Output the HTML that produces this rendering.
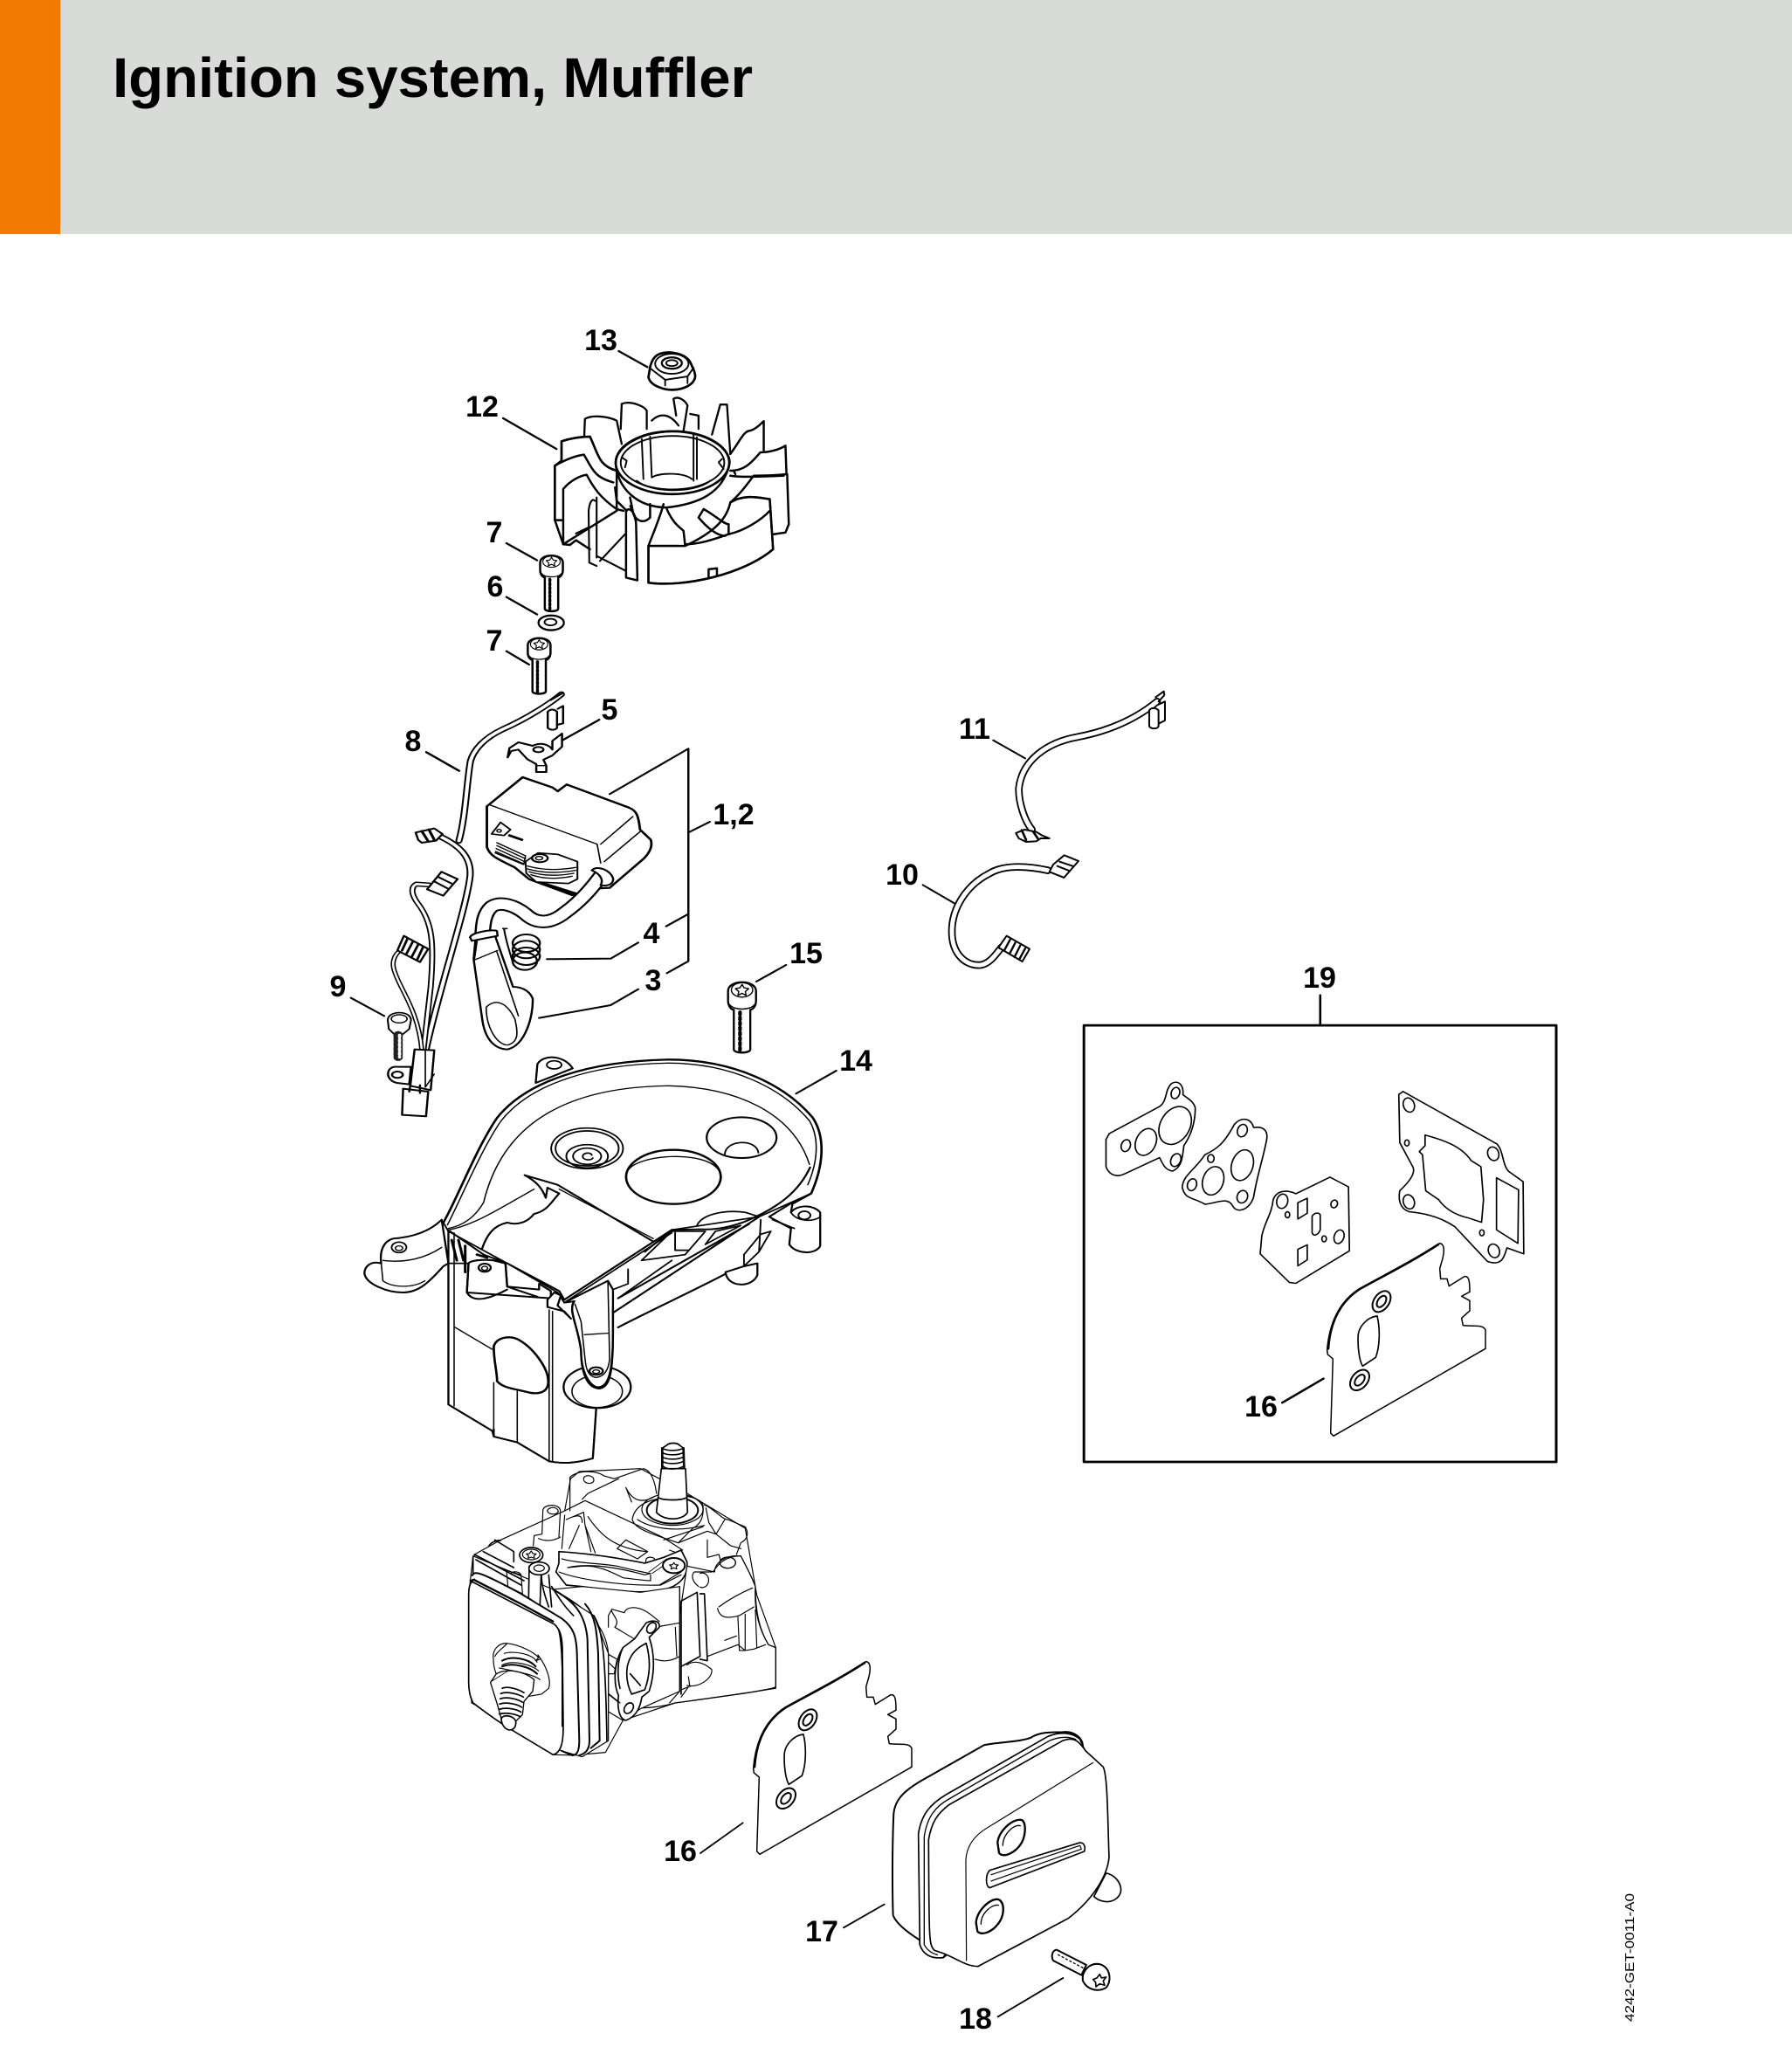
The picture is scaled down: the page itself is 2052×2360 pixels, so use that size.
<!DOCTYPE html>
<html><head><meta charset="utf-8"><title>Ignition system, Muffler</title>
<style>
html,body{margin:0;padding:0;background:#fff;width:2052px;height:2360px;overflow:hidden}
svg{display:block}
path,ellipse,line,polygon{fill:none;stroke:#000;stroke-linejoin:round;stroke-linecap:round}
.w{fill:#fff}
.lb{font-family:"Liberation Sans",Arial,sans-serif;font-weight:bold;font-size:34px;text-anchor:middle;fill:#000;stroke:none}
.tb{stroke-width:20}.ti{stroke:#fff;stroke-width:10}
</style></head><body>
<svg xmlns="http://www.w3.org/2000/svg" width="2052" height="2360" viewBox="0 0 2052 2360">
<defs>
<g id="bolt">
<path class="w" d="M-34 0C-34-28 34-28 34 0L34 22C34 40 22 44 20 44L20 138C20 148-20 148-20 138L-20 44C-24 44-34 38-34 22Z"/>
<ellipse cx="0" cy="-3" rx="26" ry="17" stroke-width="3"/>
<path d="M0-16L5-8 16-6 8 1 10 10 0 5-10 10-8 1-16-6-5-8Z" stroke-width="3"/>
<path d="M-5 50L-5 140" stroke-width="9" stroke-dasharray="5 7" stroke-linecap="butt"/>
<path d="M-30 32C-20 46 20 46 30 32" stroke-width="3"/>
</g>
<g id="gasket">
<path class="w" stroke-width="4.5" d="M68 435C75 340 110 270 180 225C280 170 360 130 455 68C470 70 472 90 465 120L455 155 458 190 480 190 487 215 540 182C555 180 558 195 558 235L530 250 558 265 558 300 530 325 535 350C570 355 600 345 612 365L612 430 90 730 80 720 88 465 70 450Z"/>
<path stroke-width="8" d="M72 430C78 340 110 270 180 225C280 170 360 130 450 72"/>
<path stroke-width="5" d="M175 380C180 350 210 320 240 318C250 360 250 420 235 460L190 490C178 470 172 420 175 380Z"/>
<g stroke-width="6"><ellipse cx="255" cy="268" rx="40" ry="26" transform="rotate(-55 255 268)"/><ellipse cx="255" cy="268" rx="22" ry="13" transform="rotate(-55 255 268)"/><ellipse cx="180" cy="538" rx="40" ry="27" transform="rotate(-50 180 538)"/><ellipse cx="180" cy="538" rx="22" ry="13" transform="rotate(-50 180 538)"/></g>
</g>
</defs>

<rect x="0" y="0" width="2052" height="268" fill="#d9dbd9"/>
<rect x="0" y="0" width="69" height="268" fill="#f37a00"/>
<text x="129" y="111" font-family="'Liberation Sans',Arial,sans-serif" font-weight="bold" font-size="64" textLength="733" lengthAdjust="spacingAndGlyphs" fill="#000">Ignition system, Muffler</text>

<!-- Flywheel group -->
<g transform="translate(400 340) scale(.3827)" stroke-width="6.5">
<path d="M806 162L892 210M460 363L620 455M470 737L562 788M470 898L562 950M470 1060L538 1100M748 1265L640 1325M230 1362L328 1418" stroke-width="6"/>
<path class="w" stroke-width="7" d="M895 240C900 265 940 278 965 278C1000 278 1035 262 1035 235L1032 222 1020 195C1005 170 960 160 930 170C912 177 905 190 900 210Z"/>
<ellipse cx="965" cy="200" rx="50" ry="30" stroke-width="5"/><ellipse cx="965" cy="198" rx="30" ry="17" stroke-width="6"/><ellipse cx="965" cy="198" rx="17" ry="9" stroke-width="5"/>
<path d="M902 215L945 248 1012 238 1030 212M945 248L945 265M1012 238L1012 258" stroke-width="5"/>
<path stroke-width="6" d="M705 365C730 350 780 360 800 370L815 440M705 365L703 415M815 320C840 310 880 325 890 340L890 395M815 320L812 395M970 305C985 295 1005 310 1012 325L1000 400M970 305L978 355M905 370C930 345 960 350 985 385M1020 350L1045 355 1045 395M1110 322L1085 412M1112 322L1130 322 1140 470"/>
<path class="w" d="M635 432C670 420 700 418 720 418C745 470 745 505 800 520L800 620 800 640 640 740 615 668 615 505 635 490Z" stroke="none"/>
<path d="M635 432L635 490M635 432C670 420 700 418 720 418C745 470 745 505 800 520M615 505C650 485 680 475 702 472C730 520 735 540 790 555M615 505L615 668 638 668M640 575C660 550 690 535 710 532C730 570 750 600 800 635L820 640M640 575L640 740 660 742 678 728 720 755"/>
<path d="M678 708L715 690M735 610C725 600 718 620 716 640L718 795 740 805M740 600L740 780M750 790L825 710M740 775L828 820 860 825" stroke-width="5.5"/>
<path class="w" d="M828 640C840 625 858 650 858 680L862 848 828 840Z"/>
<path d="M840 625C845 640 855 655 858 680" stroke-width="5"/>
<path class="w" d="M797 496C797 445 880 402 967 402C1055 402 1138 445 1138 496C1120 590 1040 620 950 630C860 630 800 570 797 496Z"/>
<ellipse cx="967" cy="496" rx="170" ry="94" stroke-width="7"/><ellipse cx="967" cy="496" rx="155" ry="80" stroke-width="5"/>
<path stroke-width="5" d="M875 425L880 545M900 418L905 540M1030 412L1030 550M1040 420L1040 545M905 540C930 525 1000 525 1025 545M860 550C900 585 1030 590 1080 550M815 480L830 490 825 510M1115 485L1105 495 1120 515"/>
<path stroke-width="6.5" d="M840 600L850 650C860 670 880 680 900 660L900 620M940 620C930 660 900 730 895 745M950 635C970 680 990 690 1000 700L1005 745M895 745L985 745M795 570L800 610 830 640"/>
<path class="w" d="M895 745L895 855C1000 870 1180 830 1268 755L1258 605C1220 600 1180 590 1140 615C1130 660 1100 700 1005 745L985 745Z" stroke="none"/>
<path d="M895 745L895 855C1000 870 1180 830 1268 755L1258 605C1220 600 1180 590 1140 615M1005 740C1050 740 1090 725 1135 710C1180 700 1230 670 1258 640M1060 635C1090 650 1120 680 1135 680L1135 710M1045 660L1060 635M1045 660C1070 690 1100 715 1125 715M1075 840L1075 815 1100 812 1100 835"/>
<path d="M1140 470C1170 430 1180 400 1200 400C1220 395 1235 375 1240 372L1240 460M1140 520C1180 520 1200 500 1230 465C1260 465 1290 455 1305 445L1308 530C1270 535 1240 535 1210 535C1190 560 1170 590 1140 615M1140 535C1170 540 1220 538 1300 535M1310 530L1315 680 1305 705 1270 710M1150 520L1155 530"/>
<use href="#bolt" transform="translate(605 795)"/>
<use href="#bolt" transform="translate(568 1042)"/>
<ellipse class="w" cx="604" cy="975" rx="38" ry="22" stroke-width="6"/><ellipse cx="602" cy="973" rx="18" ry="10" stroke-width="5"/>
</g>

<!-- Ignition group -->
<g transform="translate(360 780) scale(.4098 .3333)" stroke-width="5">
<path d="M313 244L405 308M825 388L1045 232 1045 962 985 1003M1045 520L1105 483M1045 800L983 842M650 955L828 953 905 898M628 1157L828 1113 905 1058M1235 1032L1318 975M102 1088L195 1150" stroke-width="6"/>
<path class="tb" d="M690 45C660 75 600 125 525 166C475 195 445 235 436 275C426 345 422 470 404 548"/><path class="ti" d="M690 45C660 75 600 125 525 166C475 195 445 235 436 275C426 345 422 470 404 548"/>
<path class="tb" d="M345 530C400 560 440 600 435 670C425 780 350 1050 312 1265"/><path class="ti" d="M345 530C400 560 440 600 435 670C425 780 350 1050 312 1265"/>
<path class="tb" style="stroke-width:17" d="M320 700L285 697C265 710 275 740 290 765C330 830 335 900 325 1050L305 1265"/><path class="ti" style="stroke-width:8" d="M320 700L285 697C265 710 275 740 290 765C330 830 335 900 325 1050L305 1265"/>
<path class="tb" style="stroke-width:14" d="M245 920C220 940 215 970 225 1000C240 1060 290 1130 300 1265"/><path class="ti" style="stroke-width:6" d="M245 920C220 940 215 970 225 1000C240 1060 290 1130 300 1265"/>
<path class="w" stroke-width="6" d="M283 520L335 506 358 525 340 548 300 555 290 545Z"/><path d="M300 515L318 550M320 510L335 545" stroke-width="8"/>
<path class="w" stroke-width="6" d="M355 655L400 680 360 737 315 715Z"/><path d="M345 672L383 695M335 688L372 712" stroke-width="6"/>
<path class="w" stroke-width="6" d="M250 875L318 920 295 965 232 925Z"/><path d="M260 885L245 925M275 895L258 935M290 905L273 945M303 915L288 955" stroke-width="7"/>
<path class="w" stroke-width="6" d="M232 1325C200 1320 195 1370 230 1380L265 1385 270 1325Z"/><ellipse cx="232" cy="1352" rx="15" ry="11" stroke-width="6"/>
<path class="w" stroke-width="6" d="M280 1265L335 1268 325 1405 268 1390Z"/><path d="M310 1270L310 1395 335 1350" stroke-width="4"/>
<path class="w" stroke-width="6" d="M248 1400L318 1410 312 1495 245 1490Z"/><path d="M268 1388L265 1410M295 1388L295 1415" stroke-width="6"/>
<path class="w" d="M205 1165C205 1130 270 1130 270 1165L265 1195 245 1215 225 1215 208 1195Z"/><ellipse cx="237" cy="1160" rx="22" ry="14" stroke-width="4"/><path d="M234 1215L234 1292" stroke-width="26" stroke-dasharray="8 7" stroke-linecap="butt" style="stroke:#222"/><path d="M238 1216L238 1292" stroke-width="9" stroke-dasharray="7 8" stroke-linecap="butt" style="stroke:#fff"/>
<path class="w" stroke-width="6" d="M652 105L652 160C660 170 675 168 678 160L678 105C670 95 660 95 652 105Z"/><path d="M678 150L695 145 695 85 680 95M660 65L695 40" stroke-width="6"/>
<path class="w" stroke-width="6" d="M540 262L545 230 570 210 610 222C640 205 660 225 665 235L665 205 692 180 692 225 665 255 640 270 648 290 648 312 620 312 620 285 595 268 570 235 550 240Z"/><ellipse cx="626" cy="235" rx="14" ry="9" stroke-width="6"/><path d="M620 290L648 290" stroke-width="4"/>
<path class="w" stroke-width="7" d="M482 430L582 330 665 365 680 378 705 355 880 435C900 445 905 460 910 510L940 545C945 565 940 585 920 610L825 710 790 712 720 735 600 680 560 640C510 610 490 600 482 570Z"/>
<path stroke-width="4" d="M490 425L790 560 800 625M800 560L890 465M810 620L912 515"/>
<path class="w" stroke-width="5" d="M495 525L520 485 548 510 530 530Z"/><ellipse cx="516" cy="514" rx="6" ry="5" stroke-width="4"/><path d="M545 530L580 545" stroke-width="8"/>
<path d="M510 555L590 600 585 630 505 590M510 565L590 610M508 575L588 620M506 585L586 628" stroke-width="4"/>
<path class="w" stroke-width="5" d="M590 620L625 590 680 595 735 620 735 680 710 695 620 690 592 660Z"/>
<path d="M595 635C640 650 680 650 730 640M595 645C640 660 680 660 730 650M600 655C640 670 680 670 725 660M605 665C640 680 680 680 720 670" stroke-width="4"/>
<ellipse cx="630" cy="608" rx="22" ry="14" stroke-width="6"/><ellipse cx="628" cy="608" rx="10" ry="6" stroke-width="4"/>
<path d="M640 695L730 730" stroke-width="9"/>
<path stroke-width="46" d="M800 670C770 720 740 760 700 795C660 835 620 835 590 800C560 770 520 755 495 775C472 800 472 840 470 870"/>
<path style="stroke:#fff" stroke-width="34" d="M800 670C770 720 740 760 700 795C660 835 620 835 590 800C560 770 520 755 495 775C472 800 472 840 470 870"/>
<path class="w" stroke-width="6" d="M775 650C790 630 830 650 835 680C835 700 815 705 800 700C810 680 795 660 775 650Z"/>
<path class="w" stroke-width="6" d="M445 955L470 1170C480 1240 510 1265 540 1265C590 1250 612 1150 610 1090C600 1060 575 1050 555 1050L505 875 450 890Z"/>
<path class="w" stroke-width="6" d="M435 880C440 862 500 852 510 858L512 875 440 892Z"/>
<path d="M455 890L447 958 512 925M510 930L570 1150" stroke-width="4"/>
<path stroke-width="4" d="M480 1120C510 1085 540 1110 560 1160C570 1210 570 1240 540 1250C510 1250 480 1190 480 1120Z"/>
<g stroke-width="6"><ellipse cx="592" cy="900" rx="38" ry="30"/><ellipse cx="592" cy="922" rx="38" ry="30"/><ellipse cx="592" cy="945" rx="38" ry="30"/><ellipse cx="588" cy="962" rx="34" ry="30"/></g>
<path stroke-width="5" d="M527 850L538 850M530 852C535 890 550 950 557 975"/>
<use href="#bolt" transform="translate(1195 1065) scale(1.15 1.45)"/>
</g>

<!-- Shroud -->
<g transform="translate(400 1180) scale(.3846 .3333)" stroke-width="5">
<path d="M1330 217L1450 138" stroke-width="6"/>
<path class="w" stroke="none" d="M280 660C320 580 380 400 440 300C530 170 720 105 950 100C1150 100 1300 190 1380 300C1420 370 1410 470 1375 560L1220 640 960 685 640 925 470 800 295 690Z"/>
<path stroke-width="7" d="M280 660C320 580 380 400 440 300C530 170 720 105 950 100C1150 100 1300 190 1380 300C1420 370 1410 470 1375 560L1320 595"/>
<path stroke-width="4" d="M292 668C332 580 392 410 452 310C542 180 730 115 950 112C1140 112 1290 200 1370 310C1400 370 1395 450 1365 530"/>
<path stroke-width="4" d="M295 680C340 670 375 640 400 590C440 400 560 195 950 190C1150 195 1320 280 1370 460"/>
<path stroke-width="6" d="M1372 470C1340 550 1280 610 1170 660C1120 680 1080 685 1050 683L960 685 880 760"/>
<path class="w" stroke-width="6" d="M275 650C240 690 190 710 130 715C100 725 90 760 95 800C65 790 45 810 45 835C50 870 110 900 160 900C210 900 240 860 280 810L295 800Z"/>
<ellipse cx="148" cy="745" rx="22" ry="18" stroke-width="5"/><ellipse cx="148" cy="748" rx="11" ry="8" stroke-width="4"/>
<path stroke-width="4" d="M100 790C170 800 230 780 275 745M95 800L100 860C130 885 190 885 225 860"/>
<path stroke-width="6" d="M522 497C560 510 590 520 620 530L905 725M522 497C560 520 575 545 585 575L590 540 625 560C600 590 590 620 550 630C530 660 500 670 470 660C430 670 410 700 395 750"/>
<path stroke-width="4" d="M550 545C450 610 370 670 295 685M625 545L905 715"/>
<path stroke-width="6" d="M300 690L400 770 470 800 625 895 640 925 960 685"/>
<path stroke-width="5" d="M640 935L960 695"/>
<path class="w" d="M295 800L295 1285 425 1375 430 1395 500 1415 595 1480C640 1490 680 1485 725 1470L735 1300 738 1290 785 1040 785 890 640 935 620 900 470 800 355 800Z" stroke="none"/>
<path stroke-width="6" d="M295 690L295 1285 425 1375M430 1370L430 1395 500 1415 595 1480C640 1490 680 1485 725 1470L735 1300"/>
<path stroke-width="4" d="M312 695L312 1290M595 960L595 1480M605 965L605 1480M315 1020L425 1095M430 1210L430 1380M500 1240L500 1415"/>
<path stroke-width="7" d="M430 1085C440 1050 480 1050 500 1060C550 1090 590 1160 592 1200C595 1240 570 1250 540 1245C490 1230 460 1230 440 1205C440 1170 430 1140 430 1085Z"/>
<path class="w" stroke-width="6" d="M355 800C360 790 400 785 430 790L465 800 470 880 565 890 565 870 600 895 600 920 350 900Z" stroke="none"/>
<path stroke-width="6" d="M355 800C360 790 400 785 430 790L465 800 470 880 560 915M355 800L350 900C370 940 420 920 470 890"/>
<ellipse cx="403" cy="815" rx="18" ry="14" stroke-width="6"/><ellipse cx="403" cy="817" rx="9" ry="7" stroke-width="4"/>
<path stroke-width="8" d="M305 720L320 790M325 720L340 790M345 740L345 830M380 770L410 780"/>
<path class="w" stroke-width="6" d="M590 925L610 900 630 910 620 945 660 990 640 965 590 950Z"/>
<ellipse class="w" cx="738" cy="1225" rx="100" ry="72" stroke-width="6"/><ellipse cx="738" cy="1240" rx="75" ry="55" stroke-width="4"/>
<path class="w" stroke-width="6" d="M670 930C650 960 680 1010 690 1100C690 1180 720 1230 745 1225C770 1220 785 1180 785 1040L785 890 770 860 640 935Z" stroke="none"/>
<path stroke-width="6" d="M670 930C650 960 680 1010 690 1100C690 1180 710 1230 745 1230C775 1225 785 1180 785 1040L785 950"/>
<path stroke-width="4" d="M770 865L775 1130C770 1180 750 1190 735 1192C715 1190 705 1170 702 1130L690 1000 672 940M700 1045L770 1040"/>
<ellipse cx="735" cy="1170" rx="20" ry="13" stroke-width="6"/><ellipse cx="735" cy="1172" rx="10" ry="6" stroke-width="4"/>
<path stroke-width="6" d="M785 970L1220 640M800 1020C900 960 1050 880 1130 830M800 920L1190 665"/>
<path stroke-width="5" d="M870 790L960 690 1060 690 1000 770ZM970 695L970 755 1010 755M1060 735L1090 690 1165 670 1060 735M830 820L830 870 785 890M960 790L800 920"/>
<path class="w" stroke-width="6" d="M1120 830C1125 885 1200 885 1215 840L1215 800 1175 810Z"/>
<path stroke-width="5" d="M1175 770L1175 810 1220 760 1255 690 1225 700 1175 770M1225 650L1220 760"/>
<path stroke-width="5" d="M1035 670C1050 630 1120 615 1180 625L1220 640"/>
<path class="w" stroke-width="6" d="M1315 625C1330 600 1380 595 1402 625L1402 740C1390 770 1330 770 1310 735L1315 680 1250 640 1320 590Z"/>
<ellipse cx="1355" cy="635" rx="18" ry="14" stroke-width="5"/>
<path stroke-width="5" d="M1260 650L1325 680M1315 625C1330 655 1380 660 1402 640"/>
<path class="w" stroke-width="6" d="M555 180L560 115C580 80 640 85 665 130L600 160Z"/>
<ellipse cx="610" cy="118" rx="22" ry="14" stroke-width="5"/>
<ellipse cx="965" cy="503" rx="141" ry="93" stroke-width="7"/><path stroke-width="4" d="M830 480C860 425 1060 410 1100 480"/>
<ellipse cx="1168" cy="368" rx="104" ry="70" stroke-width="6"/><path stroke-width="5" d="M1118 425C1120 375 1212 370 1218 420"/>
<g stroke-width="5"><ellipse cx="708" cy="405" rx="107" ry="70"/><ellipse cx="708" cy="405" rx="94" ry="60"/><ellipse cx="708" cy="432" rx="62" ry="40"/><ellipse cx="708" cy="432" rx="42" ry="28"/><path d="M722 428C720 418 695 418 695 433C695 445 720 448 725 438"/></g>
</g>

<!-- Engine -->
<g transform="translate(500 1660) scale(.3333)" stroke-width="3.5">
<path class="w" stroke="none" d="M460 100L490 75 700 65 860 150 1060 270 1100 500 1165 680 1165 820 820 870 640 930 580 1040 470 1050 400 1048 125 870 110 500 130 360 220 310 440 210Z"/>
<path d="M458 210L458 95C480 70 550 70 575 90L610 100 710 65C735 70 750 105 755 150M505 100C505 85 540 85 540 105C540 120 505 120 505 100Z"/>
<path d="M500 170L520 150 625 100M440 210L510 175 775 300 845 345M445 240L505 215 510 260 545 355M470 230C500 220 500 240 500 250M490 260L455 340M510 260L530 350M520 230C560 290 610 340 720 350M650 130C670 170 700 190 750 160M650 130L670 180"/>
<path d="M620 340L650 310 725 350 690 375ZM720 375C730 365 750 370 750 380L750 400 715 405Z"/>
<path d="M365 210C365 185 425 185 425 210L420 300M365 210L362 290 335 295 332 330M380 210C385 195 415 195 418 212C415 225 385 225 380 210ZM350 305C370 315 400 315 425 300M440 225L430 340"/>
<!-- shaft -->
<path d="M672 240C680 190 730 170 790 165C850 150 905 165 915 190C920 240 900 260 880 270L830 320 770 300C730 285 680 270 672 240Z"/>
<ellipse cx="810" cy="205" rx="105" ry="55" stroke-width="3.5"/><ellipse cx="810" cy="208" rx="88" ry="46" stroke-width="6"/>
<path class="w" stroke-width="5" d="M772 65L755 215C780 245 845 245 862 215L855 65Z"/>
<path stroke-width="8" d="M775 -5L775 60M848 -5L850 60"/><path stroke-width="5" d="M790 -15C800 -25 825 -25 835 -15L848 -5C830 5 790 5 775 -5ZM775 10C790 20 830 20 848 10M775 25C790 35 830 35 848 25M775 40C790 50 830 50 848 40M775 55C790 70 830 70 852 55M762 165C780 175 840 175 858 165"/>
<path d="M690 240C720 260 800 290 920 260M780 310L915 265M920 190C950 200 980 240 1000 240L1060 265C1075 290 1065 310 1045 320L1030 360M925 200L935 250 960 290 990 240M830 320L930 280 960 290 1010 330 1045 340M930 310L930 370 970 360 980 400M800 345L840 360"/>
<!-- bracket strap -->
<path class="w" stroke-width="5" d="M420 350C500 355 590 365 715 390L780 370 840 345 860 385C865 430 840 460 800 475C730 500 600 485 500 470L445 465 410 420 420 390Z"/>
<path d="M430 375C480 390 560 390 620 400C660 410 700 420 735 425L715 430C660 415 540 385 450 405L500 400C550 395 600 420 640 440C680 445 720 450 735 450L735 430M420 420C470 440 620 470 770 465L840 430M765 465L840 420"/>
<path stroke-width="2.5" d="M730 420L790 375M740 425L800 385"/>
<ellipse class="w" cx="325" cy="362" rx="40" ry="26" stroke-width="5"/><ellipse cx="325" cy="360" rx="30" ry="18"/><path d="M325 348L331 357 342 358 334 365 336 373 325 369 314 373 316 365 308 358 319 357Z"/>
<ellipse class="w" cx="815" cy="398" rx="38" ry="26" stroke-width="6"/><path d="M815 388L820 395 830 396 823 402 825 410 815 406 805 410 807 402 800 396 810 395Z"/>
<!-- right side -->
<path d="M860 400C870 410 895 425 900 420C925 420 935 445 925 465M880 450L925 490M945 440L970 435 975 530 942 540 945 440ZM955 440L955 530"/>
<path class="w" d="M955 420C955 390 990 360 1045 365C1060 395 1080 430 1095 470C1095 560 1110 620 1140 670L1165 680 1165 815C1160 825 1000 845 820 870 770 885 700 890 690 885L700 640 830 600 860 400Z" stroke="none"/>
<path d="M950 420C965 395 990 365 1045 365C1060 395 1080 430 1095 470C1090 560 1110 620 1140 670L1165 680 1165 815C1150 825 1000 845 820 870 770 885 710 890 680 885"/>
<ellipse cx="1000" cy="388" rx="27" ry="19" stroke-width="4"/>
<path d="M945 420L885 420C875 430 875 450 900 470M905 425A22 25 0 1 1 905 472"/>
<path stroke-width="5" d="M840 520L895 490 905 710 840 745ZM905 495L920 495 930 725 905 720M840 745L840 840"/>
<path d="M860 740C880 725 910 725 945 755C950 785 900 820 860 810M865 780L870 815M840 825L865 815 840 850"/>
<path d="M970 540C1010 510 1050 490 1085 475M965 545C970 570 985 585 1040 570L1090 540M1035 575L1040 690 1060 690 1060 565M990 655L1030 640M930 710L1035 670 1060 690 1090 685 1130 670M1095 550L1100 680"/>
<!-- center cylinder -->
<path class="w" d="M400 480C470 520 580 580 590 700L590 900 640 930 700 890 835 830 835 470 700 490 500 470Z" stroke="none"/>
<path d="M835 470L835 830 800 870M750 610L835 595M750 720C780 730 810 725 835 710M820 610L825 710M590 840L640 880M580 720L620 760"/>
<!-- exhaust flange -->
<path d="M590 610L590 570 602 548 645 560C650 540 690 530 740 570L765 590M600 552C610 575 630 590 612 610 630 620 660 640 680 650"/>
<path class="w" stroke-width="5" d="M720 595C740 585 768 585 765 610L730 645C750 700 750 770 730 830L705 850C700 880 690 915 650 930C625 925 620 880 625 845 605 800 610 730 640 680L680 650Z"/>
<ellipse cx="738" cy="612" rx="20" ry="14" stroke-width="5" transform="rotate(-55 738 612)"/><ellipse cx="660" cy="888" rx="20" ry="14" stroke-width="5" transform="rotate(-55 660 888)"/>
<path stroke-width="5" d="M655 745C665 700 690 680 720 665C735 720 735 770 715 825L670 840C655 810 650 780 655 745ZM665 770L700 810M640 680C620 720 620 780 630 820"/>
<path d="M585 700L620 720 610 770 585 770M580 830L630 870"/>
<!-- fins -->
<path class="w" stroke="none" d="M125 365L400 480 540 570 590 700 590 1000 500 1055 430 1035 120 870 110 500Z"/>
<path stroke-width="5" d="M130 360L300 450M125 370L125 430M135 378L290 465M200 310L265 350 265 385M180 330C190 315 210 310 220 312M160 350L265 405"/>
<path stroke-width="6" d="M122 432C130 415 150 420 290 495L430 580C470 610 480 640 482 700L490 1000C490 1040 480 1050 465 1050L430 1035"/>
<path stroke-width="6" d="M400 480C470 520 510 560 518 650L525 1000C525 1030 510 1045 490 1050"/>
<path stroke-width="6" d="M510 530C545 570 550 620 555 700L560 1000 530 1025"/>
<path stroke-width="5" d="M540 570C570 620 580 700 585 1000 560 1020M380 455C420 490 470 520 500 530"/>
<path d="M240 415L290 430 295 495 245 470ZM255 425C265 415 285 420 290 430"/>
<!-- head face -->
<path class="w" stroke-width="5" d="M115 450L405 600C425 620 430 640 432 680L435 950C435 1000 430 1040 400 1048L270 970C230 945 190 920 125 870C115 850 110 830 110 800L110 500C110 470 115 455 130 445Z"/>
<path stroke-width="7" d="M130 448L290 530 400 590"/>
<path stroke-width="6" d="M420 620C428 650 430 700 432 750L432 950" stroke-dasharray="40 3"/>
<!-- bolt post -->
<path class="w" stroke-width="5" d="M318 400L316 510 355 535 360 405Z"/>
<ellipse class="w" cx="352" cy="408" rx="35" ry="22" stroke-width="5"/><ellipse cx="352" cy="407" rx="18" ry="11"/>
<path d="M360 430C360 470 375 510 385 540M385 430L395 540M395 470C420 510 440 540 470 570" stroke-width="5"/>
<!-- spark plug -->
<path class="w" d="M195 720C190 690 210 665 240 665C290 670 340 700 350 715L348 705C375 740 395 790 385 820L360 840 300 850 220 800C200 770 195 740 195 720Z"/>
<path d="M200 710C210 690 230 680 240 668M232 700C260 690 330 700 345 730M225 740C260 720 330 740 350 760M215 750C260 760 330 770 355 790M350 715L340 725 355 720"/>
<path d="M225 725C260 705 320 720 340 745M225 745C260 730 320 745 345 770" stroke-width="6"/>
<path class="w" stroke-width="4" d="M205 770C240 750 300 760 335 790L330 830 300 865 295 910 270 935 225 935 210 880 185 800Z"/>
<path stroke-width="5" d="M225 820C245 810 285 825 300 835M220 838C245 828 285 842 298 850M218 856C245 846 285 860 295 868M216 874C245 864 285 878 292 885M215 892C245 882 285 896 290 902M215 908C245 900 280 912 288 918"/>
<path d="M190 795L245 760" stroke-width="2.5"/>
<path class="w" stroke-width="5" d="M222 925C228 905 275 915 272 940C270 975 225 970 222 925Z"/>
</g>

<!-- Lower gasket + muffler -->
<g transform="translate(840 1880) scale(.3333)" stroke-width="5">
<use href="#gasket"/>
<path d="M-114 726L32 622M378 982L518 902M908 1288L1132 1155" stroke-width="5.5"/>
<path class="w" stroke-width="6" d="M640 1025C600 1000 560 970 548 940C545 850 545 700 550 590C555 540 590 510 640 480L860 355C900 345 980 345 1020 330C1050 310 1090 310 1130 310C1170 305 1200 330 1200 360L1200 700 720 1085 640 1040Z"/>
<path class="w" stroke-width="5" d="M1280 795C1310 800 1335 830 1330 860C1320 895 1270 905 1238 875Z"/>
<path class="w" stroke-width="5" d="M635 660C645 590 680 555 730 525L1080 325C1130 305 1170 315 1190 335L1210 380 720 1085C680 1090 650 1075 640 1040Z"/>
<path stroke-width="4" d="M655 670C665 600 695 565 740 540L1085 340C1120 325 1150 325 1175 335M655 670L655 1040C665 1060 680 1070 700 1075"/>
<path class="w" stroke-width="5" d="M670 680C680 620 700 590 740 560L1130 340C1170 325 1185 340 1210 375L1270 430C1285 460 1285 600 1290 740C1285 800 1240 880 1150 950L840 1115C800 1115 770 1090 720 1070L690 1060C670 1040 672 1020 670 680Z"/>
<path stroke-width="3.5" d="M1235 415L870 640C820 670 800 710 798 750L800 1095"/>
<path class="w" stroke-width="7" d="M907 690C910 650 960 605 990 612C1005 620 1005 660 990 690C970 725 925 745 912 725Z"/>
<path stroke-width="4" d="M925 700C925 660 965 625 985 632"/>
<path class="w" stroke-width="7" d="M833 965C836 925 880 880 910 885C932 895 930 935 915 960C890 1000 850 1010 838 995Z"/>
<path stroke-width="4" d="M850 970C850 930 890 900 910 905"/>
<path stroke-width="5" d="M880 785L1190 690C1205 690 1210 705 1205 720L880 845C865 840 865 800 880 785Z"/>
<path stroke-width="3.5" d="M885 800L1190 700 1195 712 885 822"/>
<path class="w" stroke-width="6" d="M1110 1058L1212 1110 1195 1145 1098 1095C1090 1080 1095 1060 1110 1058Z"/>
<path stroke-width="4" stroke-dasharray="6 9" d="M1115 1075L1200 1120"/>
<path class="w" stroke-width="6" d="M1200 1165C1195 1130 1225 1100 1260 1108C1295 1120 1300 1165 1280 1188C1250 1205 1215 1195 1200 1165Z"/>
<path stroke-width="5" d="M1258 1142L1264 1155 1280 1152 1270 1165 1275 1180 1258 1175 1245 1185 1244 1170 1235 1160 1248 1155Z"/>
</g>

<!-- Kit box -->
<g transform="translate(1220 1150) scale(.3717 .3443)" stroke-width="5">
<path d="M785 -30L785 70M668 1325L795 1245" stroke-width="7"/>
<path d="M57 70H1512V1522H57Z" stroke-width="8"/>
<path stroke-width="4.5" d="M125 450L125 540C135 570 160 575 180 565L290 510C300 530 305 550 330 555C360 540 360 510 365 470C390 430 400 390 400 345C395 320 370 310 362 300C365 265 345 250 325 265C305 290 315 320 290 340L135 430Z"/>
<g stroke-width="4.5"><ellipse cx="339" cy="295" rx="13" ry="19" transform="rotate(15 339 295)"/><ellipse cx="338" cy="403" rx="46" ry="66" transform="rotate(25 338 403)"/><ellipse cx="248" cy="458" rx="31" ry="46" transform="rotate(20 248 458)"/><ellipse cx="186" cy="470" rx="14" ry="20" transform="rotate(15 186 470)"/><ellipse cx="340" cy="518" rx="15" ry="22" transform="rotate(20 340 518)"/></g>
<path stroke-width="4.5" d="M360 610C360 570 400 550 430 500C470 480 490 460 520 400C540 375 570 375 580 410C610 405 625 420 620 450C610 510 590 570 580 640C570 680 530 700 515 670C500 640 470 660 430 665C390 640 370 650 360 610Z"/>
<g stroke-width="4.5"><ellipse cx="545" cy="420" rx="15" ry="21" transform="rotate(15 545 420)"/><ellipse cx="448" cy="513" rx="10" ry="13"/><ellipse cx="545" cy="535" rx="33" ry="52" transform="rotate(15 545 535)"/><ellipse cx="455" cy="587" rx="32" ry="48" transform="rotate(15 455 587)"/><ellipse cx="390" cy="600" rx="14" ry="20" transform="rotate(15 390 600)"/><ellipse cx="545" cy="640" rx="16" ry="21" transform="rotate(15 545 640)"/></g>
<path stroke-width="4.5" d="M600 830L605 770C615 720 635 700 640 650C650 620 680 615 710 630L815 575 872 607 875 820 710 928 690 925Z"/>
<g stroke-width="4.5"><ellipse cx="668" cy="655" rx="17" ry="24" transform="rotate(10 668 655)"/><ellipse cx="684" cy="700" rx="7" ry="10"/><ellipse cx="828" cy="664" rx="10" ry="13" transform="rotate(15 828 664)"/><ellipse cx="797" cy="780" rx="7" ry="10"/><ellipse cx="843" cy="773" rx="15" ry="23" transform="rotate(15 843 773)"/><path d="M716 660L745 645 745 695 716 714ZM716 815L745 800 745 850 716 870ZM760 705C765 695 780 690 785 700L785 750C780 765 765 775 760 760Z"/></g>
<path stroke-width="4.5" d="M1027 300L1040 290 1330 465C1350 490 1345 530 1365 555L1410 590 1412 830 1360 810C1350 850 1340 870 1300 855L1200 740C1160 710 1110 695 1060 690C1030 680 1025 650 1030 620C1060 590 1080 560 1070 540L1030 460Z"/>
<path stroke-width="4.5" d="M1108 435C1160 450 1220 470 1250 520L1280 540 1288 650 1282 725 1240 710C1200 700 1170 680 1150 650L1110 620 1100 500 1090 490 1108 470ZM1328 577L1396 617 1394 795 1328 750Z"/>
<g stroke-width="4.5"><ellipse cx="1058" cy="335" rx="17" ry="24" transform="rotate(-15 1058 335)"/><ellipse cx="1318" cy="497" rx="17" ry="23" transform="rotate(-15 1318 497)"/><ellipse cx="1058" cy="657" rx="17" ry="24" transform="rotate(-15 1058 657)"/><ellipse cx="1320" cy="820" rx="17" ry="23" transform="rotate(-15 1320 820)"/><ellipse cx="1052" cy="461" rx="7" ry="10"/><ellipse cx="1283" cy="760" rx="7" ry="10"/></g>
</g>
<use href="#gasket" transform="translate(1497 1401) scale(.3333)"/>

<!-- Wires 10, 11 -->
<g transform="translate(980 770) scale(.3333)" stroke-width="5">
<path d="M472 233L582 295M230 730L342 795" stroke-width="6"/>
<path class="tb" d="M1035 100C950 170 850 205 760 222C660 240 570 300 560 400C560 450 580 510 605 540" style="stroke-width:26"/><path class="ti" style="stroke-width:15" d="M1035 100C950 170 850 205 760 222C660 240 570 300 560 400C560 450 580 510 605 540"/>
<path class="w" stroke-width="6" d="M1008 130L1008 185C1015 195 1035 195 1040 185L1040 130C1030 120 1015 120 1008 130Z"/>
<path stroke-width="6" d="M1040 110L1062 100 1062 165 1042 175M1030 85L1058 65 1060 78 1040 100"/>
<path class="w" stroke-width="6" d="M550 552L580 540 620 548 640 560 665 570 635 570 620 580 585 582 560 570Z"/>
<path stroke-width="8" d="M570 542L585 575M610 548L625 570"/>
<path class="tb" d="M660 680C590 665 510 660 460 690C380 730 330 810 330 890C330 970 380 1010 430 1005C460 1000 480 970 500 945" style="stroke-width:26"/><path class="ti" style="stroke-width:15" d="M660 680C590 665 510 660 460 690C380 730 330 810 330 890C330 970 380 1010 430 1005C460 1000 480 970 500 945"/>
<path class="w" stroke-width="6" d="M678 660L716 628 765 648 715 705 665 685Z"/><path stroke-width="6" d="M700 650L745 665M692 665L735 682"/>
<path class="w" stroke-width="6" d="M518 905L597 950 572 993 490 945Z"/><path stroke-width="7" d="M530 918L510 955M548 928L528 967M565 938L545 978M582 948L562 985"/>
</g>

<!-- Labels -->
<text class="lb" x="688" y="401">13</text>
<text class="lb" x="552" y="477">12</text>
<text class="lb" x="566" y="621">7</text>
<text class="lb" x="567" y="683">6</text>
<text class="lb" x="566" y="745">7</text>
<text class="lb" x="698" y="824">5</text>
<text class="lb" x="473" y="860">8</text>
<text class="lb" x="840" y="944">1,2</text>
<text class="lb" x="746" y="1080">4</text>
<text class="lb" x="748" y="1134">3</text>
<text class="lb" x="387" y="1141">9</text>
<text class="lb" x="923" y="1103">15</text>
<text class="lb" x="980" y="1226">14</text>
<text class="lb" x="1116" y="846">11</text>
<text class="lb" x="1033" y="1013">10</text>
<text class="lb" x="1511" y="1131">19</text>
<text class="lb" x="1444" y="1622">16</text>
<text class="lb" x="779" y="2131">16</text>
<text class="lb" x="941" y="2223">17</text>
<text class="lb" x="1117" y="2323">18</text>
<text transform="translate(1871 2315) rotate(-90)" font-family="'Liberation Sans',Arial,sans-serif" font-size="15" textLength="147" lengthAdjust="spacingAndGlyphs" fill="#000">4242-GET-0011-A0</text>
</svg>
</body></html>
